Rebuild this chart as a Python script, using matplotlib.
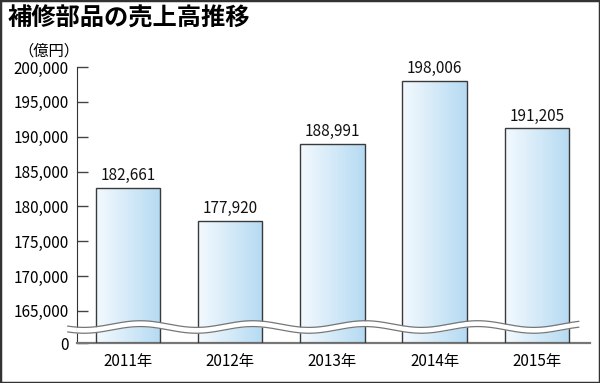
import numpy as np
import matplotlib.pyplot as plt
from matplotlib.patches import Rectangle

plt.rcParams['font.family'] = ['Noto Sans CJK JP', 'DejaVu Sans']

years = ["2011年", "2012年", "2013年", "2014年", "2015年"]
sales = [182661, 177920, 188991, 198006, 191205]
tick_values = [0, 165000, 170000, 175000, 180000, 185000, 190000, 195000, 200000]

BREAK_FROM = 165000
BREAK_GAP = 4600


def squash(v):
    # broken axis: everything below 165,000 is collapsed into a small gap
    return 0 if v == 0 else v - BREAK_FROM + BREAK_GAP


fig = plt.figure(figsize=(6, 3.83), dpi=100)
ax = fig.add_axes([0.1283, 0.1044, 0.855, 0.7206])

x = np.arange(len(years))
heights = [squash(v) for v in sales]
bars = ax.bar(x, heights, width=0.63, facecolor="none", edgecolor="#3a3a3a",
              linewidth=1.0, zorder=3)

grad = np.linspace(0, 1, 256).reshape(1, -1)
cmap = plt.matplotlib.colors.LinearSegmentedColormap.from_list(
    "bl", ["#f4fafe", "#b5daf2"])
for b in bars:
    x0, w, h = b.get_x(), b.get_width(), b.get_height()
    im = ax.imshow(grad, extent=[x0, x0 + w, 0, h], aspect="auto", cmap=cmap,
                   zorder=2, origin="lower")
    im.set_clip_path(b)

for xi, h, v in zip(x, heights, sales):
    ax.text(xi, h + 500, f"{v:,}", ha="center", va="bottom", fontsize=11,
            color="#111")

# wavy break band
wx = np.linspace(-0.59, 4.41, 600)
wy = 2300 + 480 * np.sin(2 * np.pi * (wx - 0.12) / 1.1 + np.pi / 2)
ax.fill_between(wx, wy - 420, wy + 420, color="white", zorder=4, lw=0)
ax.plot(wx, wy + 420, color="#777", lw=0.9, zorder=5, clip_on=False)
ax.plot(wx, wy - 420, color="#777", lw=0.9, zorder=5, clip_on=False)

ax.set_xlim(-0.5, 4.52)
ax.set_ylim(0, squash(200000))
ax.set_xticks(x)
ax.set_xticklabels(years, fontsize=11)
ax.set_yticks([squash(v) for v in tick_values])
ax.set_yticklabels([f"{v:,}" for v in tick_values], fontsize=11)
ax.tick_params(axis="y", direction="in", length=8, width=1, color="#444", pad=6)
ax.tick_params(axis="x", length=0, pad=7)

ax.spines["top"].set_visible(False)
ax.spines["right"].set_visible(False)
ax.spines["left"].set_color("#333")
ax.spines["bottom"].set_color("#777")
ax.spines["bottom"].set_linewidth(1.6)

fig.text(0.013, 0.952, "補修部品の売上高推移", fontsize=17.5, fontweight="bold",
         va="center", ha="left")
fig.text(0.03, 0.868, "（億円）", fontsize=11, va="center", ha="left")

fig.add_artist(Rectangle((0, 0), 1, 1, transform=fig.transFigure, fill=False,
                         edgecolor="#333", linewidth=2.5))

fig.savefig("out.png", dpi=100)
